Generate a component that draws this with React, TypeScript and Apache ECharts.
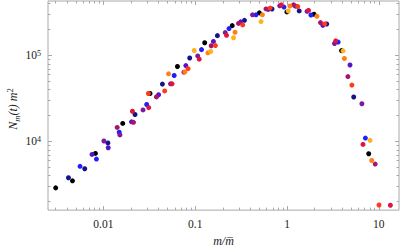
import React, { useEffect, useRef } from "react";
import * as echarts from "echarts";

// ---- axis ranges and ticks ----
const X_MIN = 0.00249;
const X_MAX = 16.6;
const Y_MIN = 1593;
const Y_MAX = 429200;

const X_MAJOR = [0.01, 0.1, 1, 10];
const X_LABELS = ["0.01", "0.1", "1", "10"];
const X_MINOR = [
  0.003, 0.004, 0.005, 0.006, 0.007, 0.008, 0.009,
  0.02, 0.03, 0.04, 0.05, 0.06, 0.07, 0.08, 0.09,
  0.2, 0.3, 0.4, 0.5, 0.6, 0.7, 0.8, 0.9,
  2, 3, 4, 5, 6, 7, 8, 9,
];
const Y_MAJOR = [10000, 100000];
const Y_EXPONENTS = ["4", "5"];
const Y_MINOR = [
  2000, 3000, 4000, 5000, 6000, 7000, 8000, 9000,
  20000, 30000, 40000, 50000, 60000, 70000, 80000, 90000,
  200000, 300000, 400000,
];

// ---- data: m / m-bar and N_m(t) m^2 for each time ----
const blackM = [0.00302, 0.0046, 0.00818, 0.01623, 0.0322, 0.064, 0.1269, 0.253, 0.5, 0.997, 1.968, 3.924, 7.762];
const blackN = [2888, 3490, 7260, 16200, 36100, 74400, 140400, 221900, 312200, 320300, 301100, 113800, 7200];

const navyM = [0.00416, 0.00626, 0.01119, 0.02209, 0.0439, 0.0871, 0.1745, 0.344, 0.686, 1.358, 2.707, 5.33];
const navyN = [3790, 4820, 9620, 20600, 46400, 93300, 169900, 255800, 346300, 328800, 231900, 32900];

const blueM = [0.00556, 0.00839, 0.01486, 0.0296, 0.059, 0.1171, 0.2334, 0.4595, 0.927, 1.821, 3.612, 7.145];
const blueN = [5140, 6240, 12790, 26900, 58500, 116800, 205300, 296400, 364600, 294900, 142900, 10950];

const indigoM = [0.00751, 0.01128, 0.02023, 0.0399, 0.079, 0.1579, 0.313, 0.624, 1.238, 2.461, 4.857];
const indigoN = [7070, 8450, 16910, 34900, 76200, 145500, 246000, 342600, 374100, 223600, 77400];

const purpleM = [0.01012, 0.01512, 0.027, 0.0538, 0.1065, 0.2122, 0.421, 0.833, 1.652, 3.291, 6.544];
const purpleN = [10130, 11920, 23250, 46740, 98700, 184200, 296400, 377000, 325400, 137500, 27430];

const magentaM = [0.01413, 0.02127, 0.0378, 0.0753, 0.1494, 0.2963, 0.5905, 1.177, 2.317, 4.607, 9.138];
const magentaN = [14550, 16690, 32960, 63900, 129500, 235500, 347100, 386900, 241000, 56750, 5460];

const crimsonM = [0.0207, 0.03115, 0.0559, 0.1106, 0.2193, 0.865, 1.715, 3.392, 6.727, 13.38];
const crimsonN = [22470, 24740, 46740, 90400, 171200, 386900, 333900, 147800, 9250, 1813];

const redM = [0.0309, 0.0465, 0.0835, 0.166, 0.329, 0.653, 1.308, 2.575, 5.093, 10.05];
const redN = [36100, 38680, 70170, 130200, 226500, 355300, 370200, 232500, 45190, 1827];

const orangeM = [0.0512, 0.0772, 0.1375, 0.2714, 0.5395, 1.075, 2.117, 4.22, 8.371];
const orangeN = [61170, 64260, 107200, 186100, 296400, 375100, 285100, 92040, 6010];

const goldM = [0.0975, 0.1475, 0.2614, 0.521, 1.031, 4.074, 8.019];
const goldN = [114100, 111200, 160500, 247400, 328800, 113200, 10290];

const SERIES = [
  { name: "t1", color: "#000000", m: blackM, n: blackN },
  { name: "t2", color: "#14148a", m: navyM, n: navyN },
  { name: "t3", color: "#1e1eff", m: blueM, n: blueN },
  { name: "t4", color: "#5514cc", m: indigoM, n: indigoN },
  { name: "t5", color: "#7a1a9e", m: purpleM, n: purpleN },
  { name: "t6", color: "#a8146a", m: magentaM, n: magentaN },
  { name: "t7", color: "#e2143c", m: crimsonM, n: crimsonN },
  { name: "t8", color: "#ff3a1a", m: redM, n: redN },
  { name: "t9", color: "#ff7f1c", m: orangeM, n: orangeN },
  { name: "t10", color: "#ffb21e", m: goldM, n: goldN },
];

const FONT = "'Liberation Serif', 'DejaVu Serif', serif";
const FRAME = "#a8a8a8";
const TEXT = "#222222";

function nearestIndex(list: number[], v: number) {
  let best = 0;
  let bd = Infinity;
  list.forEach((t, i) => {
    const d = Math.abs(Math.log10(t) - Math.log10(v));
    if (d < bd) {
      bd = d;
      best = i;
    }
  });
  return best;
}

export default function App() {
  const ref = useRef<HTMLDivElement>(null);

  useEffect(() => {
    if (!ref.current) return;
    const chart = echarts.init(ref.current, null, { renderer: "svg" });

    const baseX: any = {
      type: "log",
      logBase: 10,
      min: X_MIN,
      max: X_MAX,
      axisLine: { show: false },
      splitLine: { show: false },
      minorTick: { show: false },
    };
    const baseY: any = {
      type: "log",
      logBase: 10,
      min: Y_MIN,
      max: Y_MAX,
      axisLine: { show: false },
      splitLine: { show: false },
      minorTick: { show: false },
    };
    const tick = (values: number[], length: number) => ({
      show: true,
      inside: true,
      length,
      customValues: values,
      lineStyle: { color: FRAME, width: 1 },
    });

    const xAxes = [
      {
        ...baseX,
        position: "bottom",
        axisTick: tick(X_MAJOR, 4),
        axisLabel: {
          show: true,
          customValues: X_MAJOR,
          formatter: (v: number) => X_LABELS[nearestIndex(X_MAJOR, v)],
          margin: 8,
          fontFamily: FONT,
          fontSize: 11.5,
          color: TEXT,
        },
        name: "m/m\u0305",
        nameLocation: "middle",
        nameGap: 24,
        nameTextStyle: {
          fontFamily: FONT,
          fontStyle: "italic",
          fontSize: 12,
          color: TEXT,
        },
      },
      { ...baseX, position: "bottom", axisTick: tick(X_MINOR, 2.5), axisLabel: { show: false } },
      { ...baseX, position: "top", axisTick: tick(X_MAJOR, 4), axisLabel: { show: false } },
      { ...baseX, position: "top", axisTick: tick(X_MINOR, 2.5), axisLabel: { show: false } },
    ];

    const yAxes = [
      {
        ...baseY,
        position: "left",
        axisTick: tick(Y_MAJOR, 4),
        axisLabel: {
          show: true,
          customValues: Y_MAJOR,
          formatter: (v: number) => "10{s|" + Y_EXPONENTS[nearestIndex(Y_MAJOR, v)] + "}",
          margin: 7,
          fontFamily: FONT,
          fontSize: 11.5,
          color: TEXT,
          rich: {
            s: { fontFamily: FONT, fontSize: 8, color: TEXT, verticalAlign: "top" },
          },
        },
      },
      { ...baseY, position: "left", axisTick: tick(Y_MINOR, 2.5), axisLabel: { show: false } },
      { ...baseY, position: "right", axisTick: tick(Y_MAJOR, 4), axisLabel: { show: false } },
      { ...baseY, position: "right", axisTick: tick(Y_MINOR, 2.5), axisLabel: { show: false } },
    ];

    chart.setOption({
      animation: false,
      backgroundColor: "#ffffff",
      grid: {
        left: 48,
        right: 8,
        top: 1,
        bottom: 35,
        show: true,
        borderColor: FRAME,
        borderWidth: 1,
        backgroundColor: "transparent",
      },
      xAxis: xAxes,
      yAxis: yAxes,
      graphic: [
        {
          type: "text",
          x: 13,
          y: 109,
          rotation: Math.PI / 2,
          style: {
            text: "{i|N}{b|m}{i|(t) m}{p|2}",
            align: "center",
            verticalAlign: "middle",
            fill: TEXT,
            rich: {
              i: { fontFamily: FONT, fontStyle: "italic", fontSize: 12, fill: TEXT, lineHeight: 16 },
              b: { fontFamily: FONT, fontStyle: "italic", fontSize: 8.5, fill: TEXT, verticalAlign: "bottom" },
              p: { fontFamily: FONT, fontSize: 8.5, fill: TEXT, verticalAlign: "top" },
            },
          },
        },
      ],
      series: SERIES.map((s) => ({
        type: "scatter",
        name: s.name,
        xAxisIndex: 0,
        yAxisIndex: 0,
        symbol: "circle",
        symbolSize: 5,
        itemStyle: { color: s.color, opacity: 1 },
        data: s.m.map((m, i) => [m, s.n[i]]),
      })),
    });

    return () => chart.dispose();
  }, []);

  return (
    <div
      ref={ref}
      style={{ position: "fixed", left: 0, top: 0, width: 407, height: 252 }}
    />
  );
}
